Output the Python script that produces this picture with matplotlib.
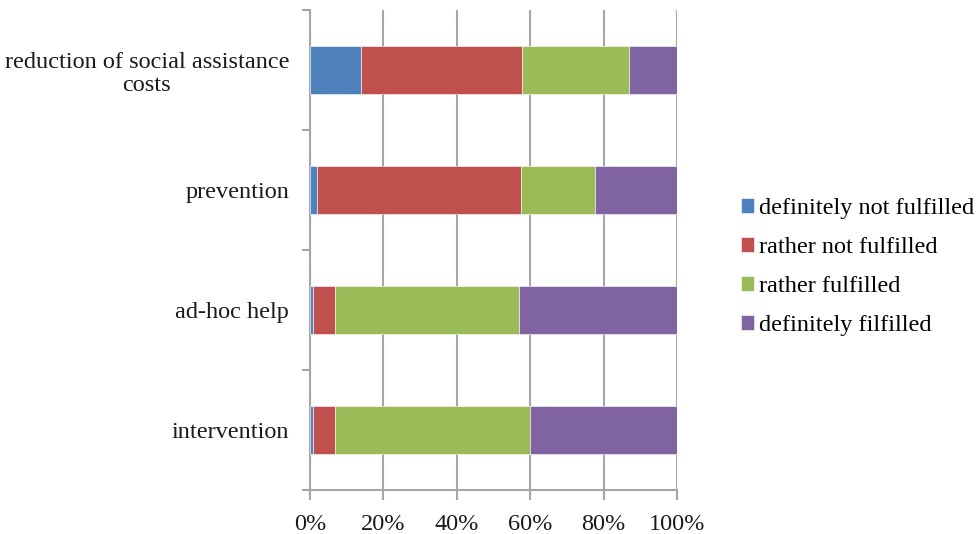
import matplotlib.pyplot as plt
import numpy as np

categories = ["reduction of social assistance\ncosts", "prevention", "ad-hoc help", "intervention"]
series = ["definitely not fulfilled", "rather not fulfilled", "rather fulfilled", "definitely filfilled"]
def_not = [13.8, 1.9, 0.7, 0.7]
rather_not = [44.0, 55.6, 6.0, 6.0]
rather_yes = [29.2, 20.2, 50.3, 53.3]
def_yes = [13.0, 22.3, 43.0, 40.0]
colors = ["#4F81BD", "#C0504D", "#9BBB59", "#8064A2"]

plt.rcParams['font.family'] = ['Liberation Serif', 'DejaVu Serif']
plt.rcParams['font.size'] = 17.5

fig = plt.figure(figsize=(9.8, 5.34), dpi=100)
ax = fig.add_axes([310 / 980, 44 / 534, 367 / 980, 480 / 534])

y = np.arange(len(categories))
left = np.zeros(len(categories))
for vals, name, c in zip([def_not, rather_not, rather_yes, def_yes], series, colors):
    ax.barh(y, vals, 0.4, left=left, color=c, label=name, edgecolor="white", linewidth=0.4, zorder=3)
    left += np.array(vals)

ax.set_ylim(3.5, -0.5)
ax.set_xlim(0, 100)
ax.set_xticks(np.arange(0, 101, 20))
ax.set_xticklabels([f"{v}%" for v in range(0, 101, 20)])
ax.set_yticks(y)
ax.set_yticklabels(categories, ha="right", multialignment="center", color="#1a1a1a", linespacing=1.15)
ax.set_yticks(np.arange(-0.5, 3.6, 1), minor=True)

grid_c = "#A6A6A6"
ax.grid(axis="x", color=grid_c, linewidth=1.5, zorder=0)
for s in ["top", "right"]:
    ax.spines[s].set_visible(False)
for s in ["left", "bottom"]:
    ax.spines[s].set_color(grid_c)
    ax.spines[s].set_linewidth(1.5)

ax.tick_params(axis="y", which="major", length=0, pad=15)
ax.tick_params(axis="y", which="minor", length=6, width=1.5, color=grid_c)
ax.tick_params(axis="x", length=7, width=1.5, color=grid_c, pad=10, labelcolor="#1a1a1a")
ax.set_axisbelow(True)

ax.legend(loc="center left", bbox_to_anchor=(741 / 980, 267 / 534), bbox_transform=fig.transFigure,
          frameon=False, handlelength=0.55, handleheight=0.55, handletextpad=0.2,
          labelspacing=0.74, borderpad=0, borderaxespad=0)

fig.savefig("out.png", dpi=100)
